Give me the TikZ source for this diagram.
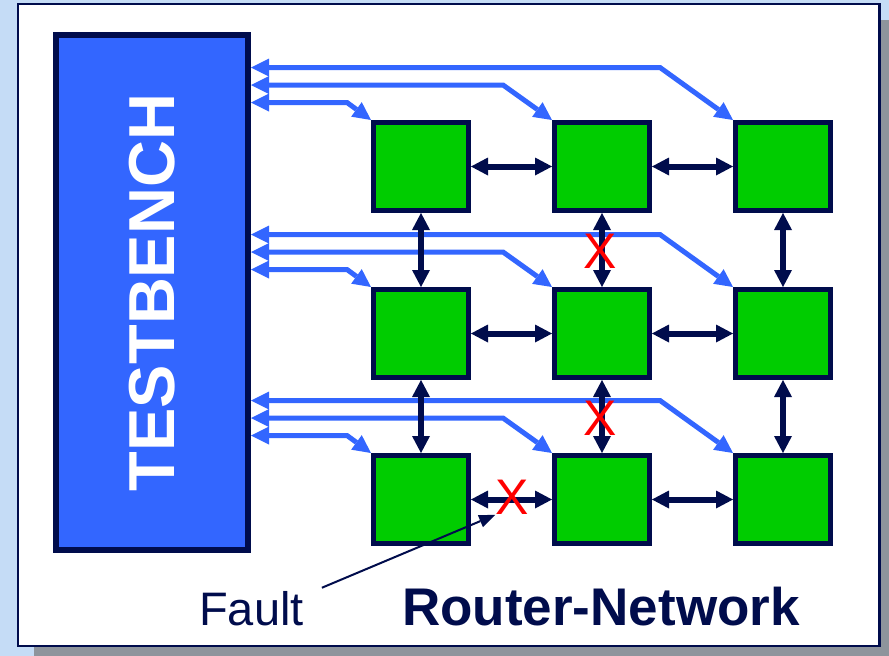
\documentclass[tikz,border=0pt]{standalone}
\usepackage{fontspec}
\setmainfont{Liberation Sans}
\usetikzlibrary{arrows.meta, positioning, calc}
\definecolor{navy}{HTML}{000C4C}
\definecolor{tbblue}{HTML}{3366FF}
\definecolor{rgreen}{HTML}{00CC00}
\definecolor{bgblue}{HTML}{C5DCF6}
\definecolor{shadegray}{HTML}{8E949C}

\begin{document}
\begin{tikzpicture}[x=1pt, y=-1pt,
  router/.style={draw=navy, line width=5pt, fill=rgreen, minimum width=95pt, minimum height=88pt, inner sep=0pt},
  tbbox/.style={draw=navy, line width=6pt, fill=tbblue, minimum width=192pt, minimum height=515pt, inner sep=0pt,
    text=white, font=\fontsize{65}{70}\selectfont\bfseries},
  link/.style={navy, line width=6pt, arrows={Triangle[length=17pt,width=18pt,line width=0pt]-Triangle[length=17pt,width=18pt,line width=0pt]}},
  bus/.style={tbblue, line width=5pt, arrows={Triangle[length=18pt,width=18pt,line width=0pt]-Triangle[length=18pt,width=18pt,line width=0pt]}},
  faultx/.style={text=red, font=\fontsize{50}{50}\selectfont, inner sep=0pt}]
% frame
\useasboundingbox (0,0) rectangle (889,656);
\fill[bgblue] (0,0) rectangle (889,656);
\fill[shadegray] (34,20) rectangle (889,656);
\draw[navy, line width=2.5pt, fill=white] (18,4) rectangle (879.5,646);

\node[tbbox] (tb) at (152,292.5) {\rotatebox{90}{TESTBENCH}};

% routers
\node[router] (r11) at (421,166.5) {};
\node[router, right=81pt of r11] (r12) {};
\node[router, right=81pt of r12] (r13) {};
\node[router, below=74pt of r11] (r21) {};
\node[router, right=81pt of r21] (r22) {};
\node[router, right=81pt of r22] (r23) {};
\node[router, below=73pt of r21] (r31) {};
\node[router, right=81pt of r31] (r32) {};
\node[router, right=81pt of r32] (r33) {};

% testbench buses
\foreach \r in {1,2,3} {
  \path (r\r1.north west) ++(-24,-17.5) coordinate (k\r1);
  \path (r\r2.north west) ++(-49,-35) coordinate (k\r2);
  \path (r\r3.north west) ++(-73,-52.5) coordinate (k\r3);
  \foreach \c in {1,2,3}
    \draw[bus] (tb.east |- k\r\c) -- (k\r\c) -- (r\r\c.north west);
}

% links
\foreach \r in {1,2,3} {
  \draw[link] (r\r1.east) -- (r\r2.west);
  \draw[link] (r\r2.east) -- (r\r3.west);
}
\foreach \c in {1,2,3} {
  \draw[link] (r1\c.south) -- (r2\c.north);
  \draw[link] (r2\c.south) -- (r3\c.north);
}

% faults
\node[faultx] (x1) at (600,251.5) {X};
\node[faultx] (x2) at (600,418.5) {X};
\node[faultx] (x3) at (512,497.5) {X};

\node[text=navy, font=\fontsize{47}{50}\selectfont, anchor=base west, inner sep=3pt] (fault) at (196,625) {Fault};
\draw[navy, line width=2pt, -{Triangle[length=16pt,width=13pt,line width=0pt]}] ([xshift=15pt]fault.north east) -- (x3.south west);

\node[text=navy, font=\fontsize{53}{56}\selectfont\bfseries, anchor=base west, inner sep=0pt] (title) at (402,625) {Router-Network};
\end{tikzpicture}
\end{document}
